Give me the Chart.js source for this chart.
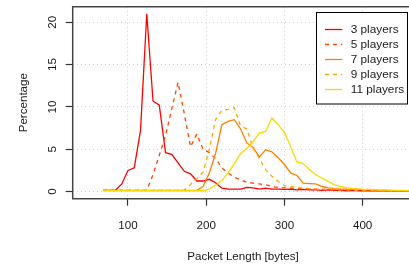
<!DOCTYPE html>
<html>
<head>
<meta charset="utf-8">
<script src="https://cdn.jsdelivr.net/npm/chart.js@4.4.1/dist/chart.umd.min.js"></script>
<style>
  html, body { margin: 0; padding: 0; background: #fff; overflow: hidden; }
  #wrap { width: 414px; height: 267px; }
</style>
</head>
<body>
<div id="wrap"><canvas id="pktChart" width="414" height="267"></canvas></div>
<script>
// packet length bins (bytes)
const packetLength = [68, 76, 84, 92, 100, 108, 116, 124, 132, 140,
  148, 156, 164, 172, 180, 188, 196, 204, 212, 220,
  228, 236, 244, 252, 260, 268, 276, 284, 292, 300,
  308, 316, 324, 332, 340, 348, 356, 364, 372, 380,
  388, 396, 404, 412, 420, 428, 436, 444, 452, 460, 468];

// percentage per bin
const players3 = [0.15, 0.15, 0.15, 0.9, 2.5, 2.8, 7.2, 21.0, 10.7, 10.2,
  4.6, 4.4, 3.4, 2.4, 2.1, 1.25, 1.25, 1.45, 1.05, 0.4,
  0.3, 0.3, 0.3, 0.5, 0.45, 0.3, 0.4, 0.3, 0.3, 0.25,
  0.3, 0.2, 0.25, 0.2, 0.2, 0.15, 0.2, 0.15, 0.15, 0.1,
  0.15, 0.1, 0.1, 0.12, 0.1, 0.1, 0.08, 0.1, 0.08, 0.08, 0.08];
const players5 = [0.15, 0.15, 0.15, 0.15, 0.15, 0.15, 0.15, 0.15, 2.0, 4.3,
  6.6, 9.8, 12.9, 9.2, 5.3, 6.8, 5.0, 4.6, 3.9, 2.8,
  2.2, 1.7, 1.4, 1.1, 1.0, 0.9, 0.8, 0.6, 0.5, 0.45,
  0.4, 0.35, 0.35, 0.3, 0.3, 0.25, 0.25, 0.2, 0.2, 0.2,
  0.15, 0.15, 0.15, 0.12, 0.12, 0.1, 0.1, 0.1, 0.1, 0.1, 0.1];
const players7 = [0.15, 0.15, 0.15, 0.15, 0.15, 0.15, 0.15, 0.15, 0.15, 0.15,
  0.15, 0.15, 0.15, 0.15, 0.15, 0.15, 0.6, 2.2, 4.5, 7.9,
  8.3, 8.5, 7.4, 5.75, 5.2, 4.1, 4.95, 4.7, 4.0, 3.2,
  2.2, 1.9, 1.0, 0.95, 0.9, 0.6, 0.45, 0.35, 0.3, 0.3,
  0.25, 0.25, 0.2, 0.2, 0.15, 0.15, 0.15, 0.12, 0.12, 0.1, 0.1];
const players9 = [0.15, 0.15, 0.15, 0.15, 0.15, 0.15, 0.15, 0.15, 0.15, 0.15,
  0.15, 0.15, 0.15, 0.15, 0.85, 1.5, 2.3, 5.0, 8.5, 9.6,
  9.7, 9.9, 7.7, 7.4, 5.1, 3.9, 2.6, 1.8, 1.2, 0.7,
  0.6, 0.5, 0.4, 0.35, 0.3, 0.3, 0.25, 0.25, 0.2, 0.2,
  0.2, 0.15, 0.15, 0.15, 0.12, 0.12, 0.1, 0.1, 0.1, 0.1, 0.1];
const players11 = [0.1, 0.1, 0.1, 0.1, 0.1, 0.1, 0.1, 0.1, 0.1, 0.1,
  0.1, 0.1, 0.1, 0.1, 0.1, 0.1, 0.1, 0.3, 0.75, 1.3,
  2.2, 3.3, 4.5, 5.1, 5.9, 6.9, 7.1, 8.7, 7.9, 7.0,
  5.3, 3.5, 3.3, 2.6, 2.0, 1.6, 1.2, 0.8, 0.6, 0.45,
  0.35, 0.3, 0.25, 0.25, 0.2, 0.2, 0.15, 0.15, 0.15, 0.12, 0.12];

const seriesLabels = ['3 players', '5 players', '7 players', '9 players', '11 players'];
const seriesValues = [players3, players5, players7, players9, players11];
const seriesColors = ['#FF0000', '#FF4500', '#FF8000', '#FFA500', '#FFD700'];
const seriesDash = [[], [4, 4], [], [4, 4], []];

const xTicks = [100, 200, 300, 400];
const yTicks = [0, 5, 10, 15, 20];

const FONT = '"Liberation Sans", Arial, Helvetica, sans-serif';
const TEXT = '#1a1a1a';

// box, tick labels, axis titles and legend, R style
const frame = {
  id: 'frame',
  afterDraw(chart) {
    const ctx = chart.ctx;
    const a = chart.chartArea;
    const xs = chart.scales.x, ys = chart.scales.y;

    ctx.save();
    ctx.strokeStyle = '#444';
    ctx.lineWidth = 1.5;
    ctx.beginPath();
    ctx.moveTo(a.right + 2, a.top);
    ctx.lineTo(a.left, a.top);
    ctx.lineTo(a.left, a.bottom);
    ctx.lineTo(a.right + 2, a.bottom);
    ctx.stroke();

    ctx.fillStyle = TEXT;
    ctx.font = '11.6px ' + FONT;
    ctx.textAlign = 'center';
    ctx.textBaseline = 'alphabetic';

    xTicks.forEach(v => {
      ctx.fillText(String(v), xs.getPixelForValue(v), 229);
    });
    ctx.fillText('Packet Length [bytes]', (a.left + a.right) / 2, 259.5);

    yTicks.forEach(v => {
      ctx.save();
      ctx.translate(55.8, ys.getPixelForValue(v));
      ctx.rotate(-Math.PI / 2);
      ctx.fillText(String(v), 0, 0);
      ctx.restore();
    });
    ctx.save();
    ctx.translate(26.7, (a.top + a.bottom) / 2);
    ctx.rotate(-Math.PI / 2);
    ctx.fillText('Percentage', 0, 0);
    ctx.restore();

    // legend
    ctx.fillStyle = '#fff';
    ctx.fillRect(316, 12.5, 91.5, 91.5);
    ctx.strokeStyle = '#000';
    ctx.lineWidth = 1;
    ctx.strokeRect(316.5, 12.5, 91, 91.5);
    ctx.font = '11.8px ' + FONT;
    ctx.textAlign = 'left';
    ctx.textBaseline = 'middle';
    chart.data.datasets.forEach((ds, i) => {
      const y = 29.5 + i * 15;
      ctx.strokeStyle = ds.borderColor;
      ctx.lineWidth = 1.3;
      ctx.setLineDash(ds.borderDash);
      ctx.beginPath();
      ctx.moveTo(325, y);
      ctx.lineTo(342.3, y);
      ctx.stroke();
      ctx.setLineDash([]);
      ctx.fillStyle = TEXT;
      ctx.fillText(ds.label, 350.7, y + 0.5);
    });
    ctx.restore();
  }
};

const datasets = seriesValues.map((vals, i) => ({
  label: seriesLabels[i],
  data: packetLength.map((x, j) => ({ x: x, y: vals[j] })),
  borderColor: seriesColors[i],
  borderWidth: 1.3,
  borderDash: seriesDash[i],
  pointRadius: 0,
  tension: 0,
  fill: false,
  order: seriesValues.length - i
}));

new Chart(document.getElementById('pktChart'), {
  type: 'line',
  data: { datasets: datasets },
  options: {
    responsive: false,
    animation: false,
    events: [],
    layout: { padding: { top: 6.7, right: 0.7, bottom: 0, left: 0 } },
    plugins: { legend: { display: false }, tooltip: { enabled: false } },
    scales: {
      x: {
        type: 'linear',
        min: 29.3,
        max: 464.8,
        afterBuildTicks: s => { s.ticks = xTicks.map(v => ({ value: v })); },
        afterFit: s => { s.height = 68.3; },
        ticks: { display: false },
        grid: { color: '#cfcfcf', lineWidth: 1, tickColor: '#333', tickLength: 7, tickWidth: 1.2, tickBorderDash: [] },
        border: { display: false, dash: [1, 3] }
      },
      y: {
        type: 'linear',
        min: -0.84,
        max: 21.84,
        afterBuildTicks: s => { s.ticks = yTicks.map(v => ({ value: v })); },
        afterFit: s => { s.width = 72.7; },
        ticks: { display: false },
        grid: { color: '#cfcfcf', lineWidth: 1, tickColor: '#333', tickLength: 7, tickWidth: 1.2, tickBorderDash: [] },
        border: { display: false, dash: [1, 3] }
      }
    }
  },
  plugins: [frame]
});
</script>
</body>
</html>
